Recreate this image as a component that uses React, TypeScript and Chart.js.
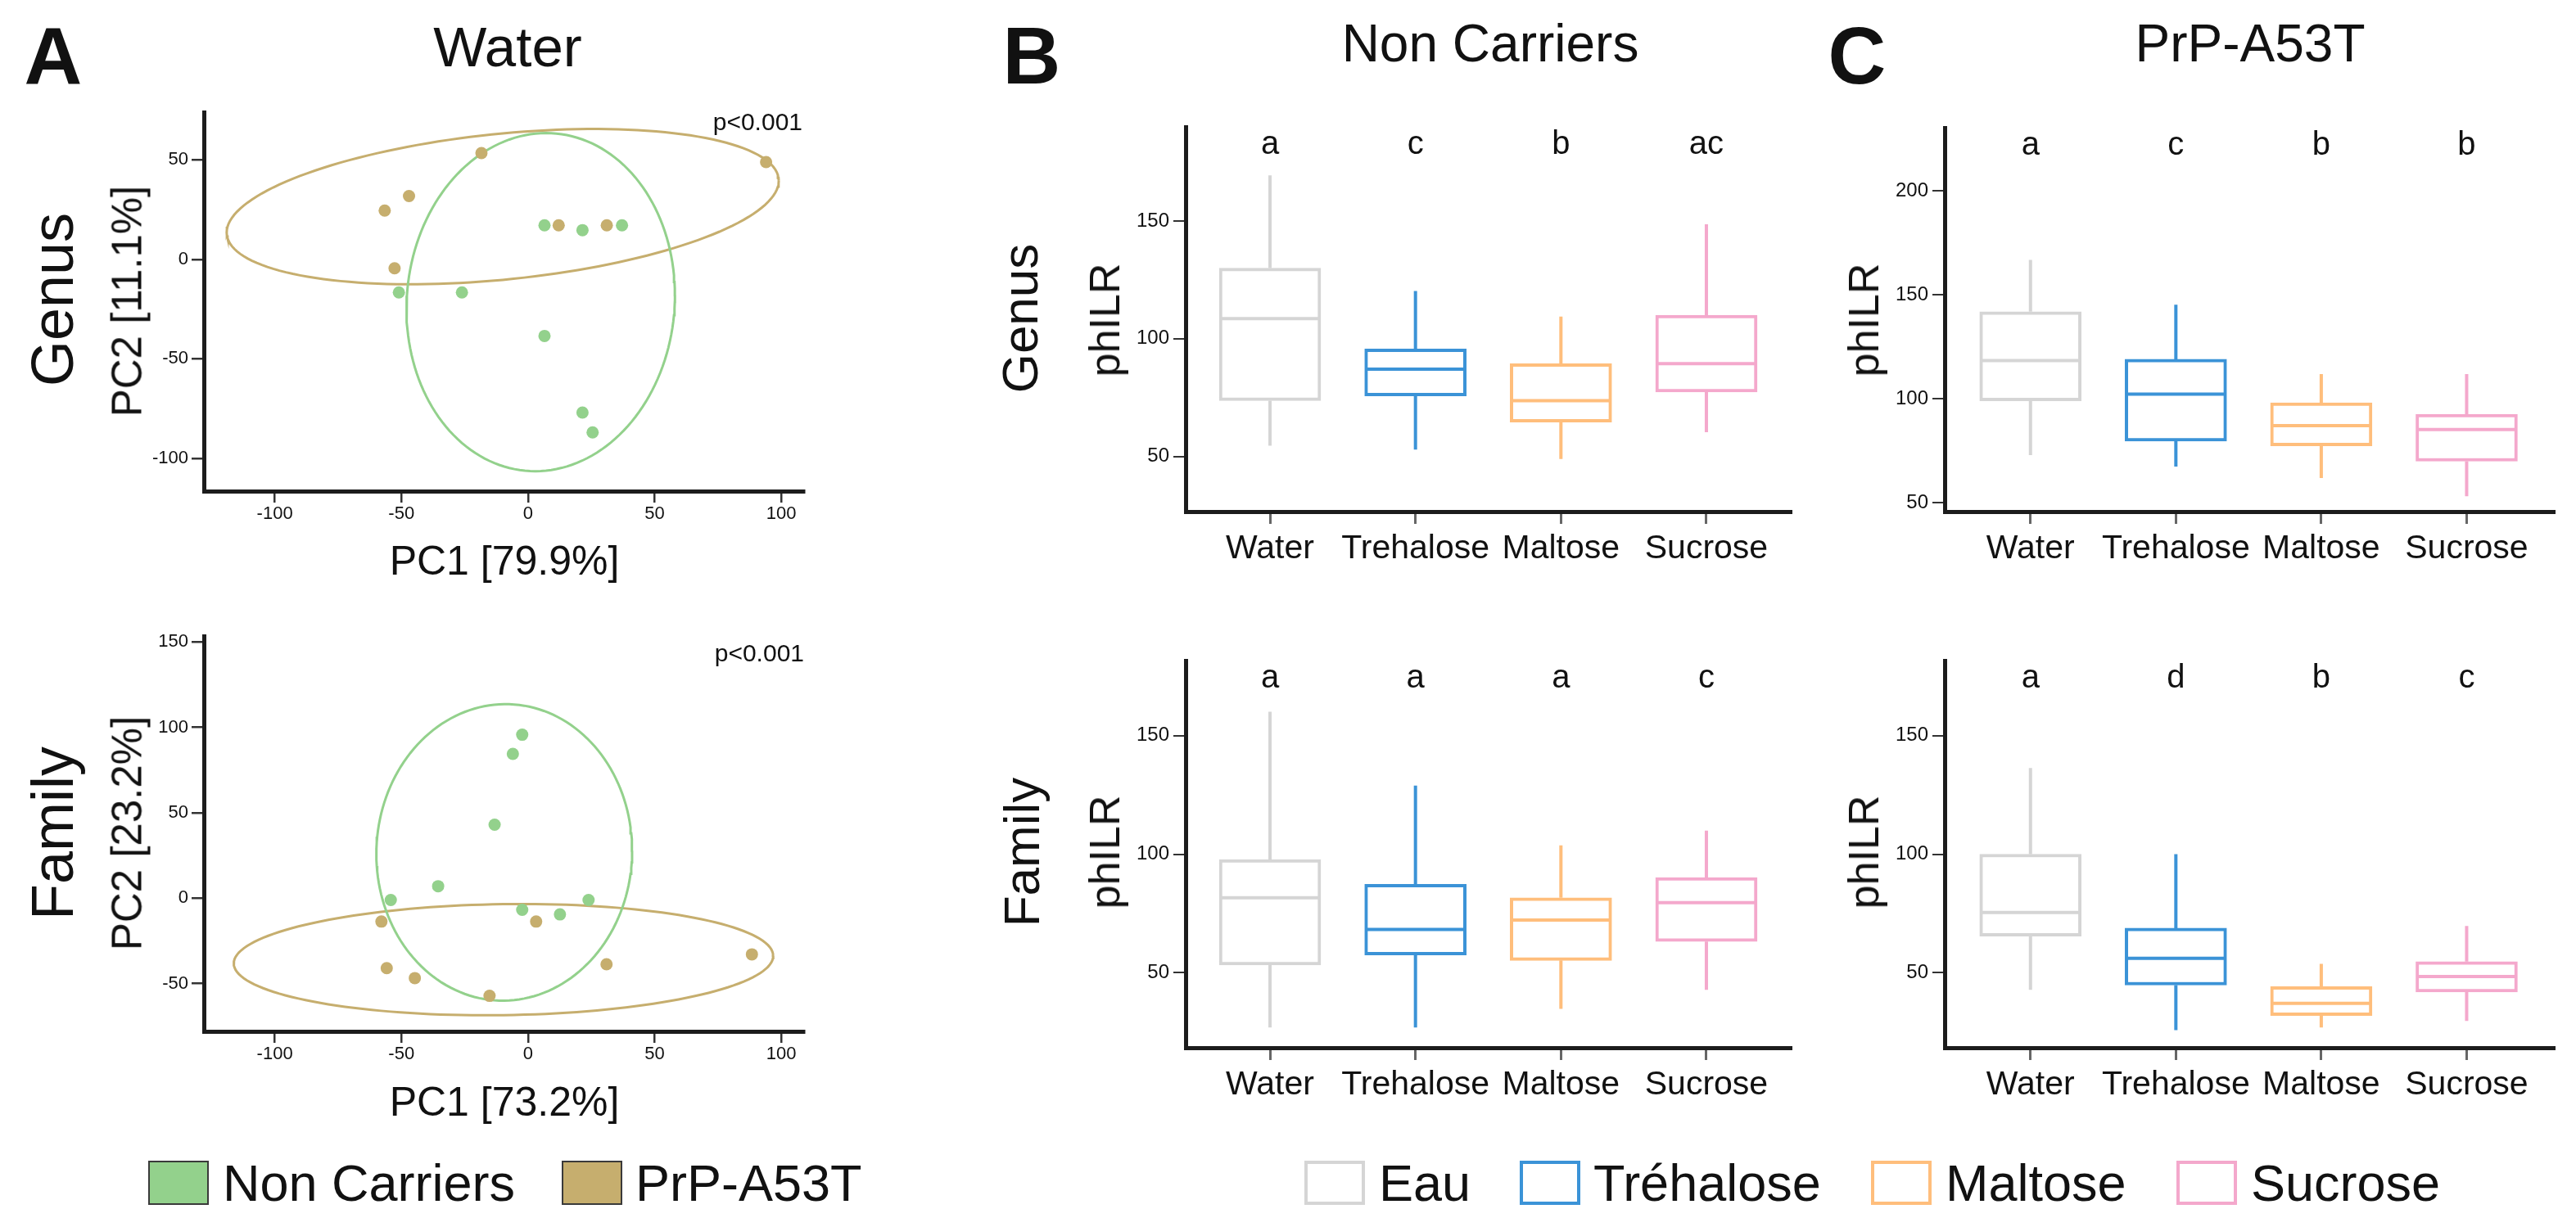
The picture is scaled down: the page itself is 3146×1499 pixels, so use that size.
import React, { useEffect, useRef } from "react";
import { Chart, registerables } from "chart.js";

Chart.register(...registerables);

const FONT = '"Liberation Sans", Arial, Helvetica, sans-serif';
Chart.defaults.font.family = FONT;

// ---------- Panel A : PCA ----------
const genusNonCarriersX = [6.5, 21.5, 37.1, -51, -26.1, 6.5, 21.5, 25.5];
const genusNonCarriersY = [17.1, 14.7, 17.1, -16.6, -16.6, -38.5, -77, -87];
const genusPrPX = [-18.4, 94, -47, -56.6, -52.7, 12.1, 31.1];
const genusPrPY = [53.4, 48.9, 31.8, 24.5, -4.5, 17.1, 17.1];
const familyNonCarriersX = [-2.3, -6, -13.2, -35.5, -54.2, -2.3, 12.6, 23.9];
const familyNonCarriersY = [95.7, 84.5, 43, 7, -1.1, -6.8, -9.5, -1.1];
const familyPrPX = [-57.9, 3.2, -55.8, -44.7, -15.2, 31, 88.4];
const familyPrPY = [-13.7, -13.7, -41, -46.8, -57.2, -38.7, -32.9];
// confidence ellipses: [centerX, centerY, Lxx, Lyx, Lyy] (Cholesky factor of scaled covariance)
const genusNonCarriersEllipse = [5, -21.5, 53, 3.5, 84.9];
const genusPrPEllipse = [-10, 26.5, 109, 13, 36.8];
const familyNonCarriersEllipse = [-9.4, 26.8, 50.5, 1, 86.8];
const familyPrPEllipse = [-9.7, -36, 106.5, 2.2, 32.5];
const pcaXTicks = [-100, -50, 0, 50, 100];
const genusPcaYTicks = [-100, -50, 0, 50];
const familyPcaYTicks = [-50, 0, 50, 100, 150];

// ---------- Panels B & C : phILR boxplots ----------
const categories = ["Water", "Trehalose", "Maltose", "Sucrose"];
// [min, q1, median, q3, max]
const nonCarriersGenus = [
  [54.6, 73.7, 108.6, 130, 169.4],
  [52.9, 75.7, 87.1, 95.7, 120.3],
  [48.9, 64.6, 73.7, 89.4, 109.4],
  [60.3, 77.4, 89.4, 110, 148.6],
];
const nonCarriersFamily = [
  [26.9, 53.3, 81.6, 97.7, 160],
  [26.9, 57.5, 68.3, 87.3, 128.9],
  [34.8, 55.2, 72.2, 81.6, 103.7],
  [42.8, 63.2, 79.6, 90.1, 109.9],
];
const prpGenus = [
  [72.9, 99, 118.4, 141.9, 166.8],
  [67.4, 79.7, 102.3, 119, 145.2],
  [61.9, 77.4, 87.1, 98.1, 111.9],
  [53.2, 70, 85.2, 92.6, 111.9],
];
const prpFamily = [
  [42.8, 65.4, 75.4, 100, 136.3],
  [25.8, 44.8, 56.1, 68.8, 100],
  [26.9, 32, 37.1, 44.2, 53.8],
  [29.7, 41.9, 48.4, 54.7, 69.7],
];
const nonCarriersGenusLetters = ["a", "c", "b", "ac"];
const nonCarriersFamilyLetters = ["a", "a", "a", "c"];
const prpGenusLetters = ["a", "c", "b", "b"];
const prpFamilyLetters = ["a", "d", "b", "c"];
const boxYTicks = [50, 100, 150];
const prpGenusYTicks = [50, 100, 150, 200];

const GREEN = "#93d18c";
const TAN = "#c6ae6e";
const BOX_COLORS = ["#d5d5d5", "#3b93d7", "#ffbe7c", "#f4a8cc"];
const AXIS = "#1c1c1c";

type Frame = { l: number; r: number; t: number; b: number; ml: number; mt: number; mr: number; mb: number };

function ellipsePoints(e: number[]) {
  const [cx, cy, a, b, c] = e;
  const pts: { x: number; y: number }[] = [];
  const n = 160;
  for (let k = 0; k <= n; k++) {
    const t = (2 * Math.PI * k) / n;
    pts.push({ x: cx + a * Math.cos(t), y: cy + b * Math.cos(t) + c * Math.sin(t) });
  }
  return pts;
}

function axis(opts: {
  min: number; max: number; ticks: number[]; isX: boolean; size: number; fontSize: number;
  tickLength: number; padding: number; tickColor: string; tickWidth: number; label?: (v: number) => string;
}) {
  return {
    type: "linear",
    min: opts.min,
    max: opts.max,
    offset: false,
    afterBuildTicks: (s: any) => {
      s.ticks = opts.ticks.map((v) => ({ value: v }));
    },
    afterFit: (s: any) => {
      if (opts.isX) s.height = opts.size;
      else s.width = opts.size;
      s.paddingLeft = 0;
      s.paddingRight = 0;
      s.paddingTop = 0;
      s.paddingBottom = 0;
    },
    grid: {
      display: true,
      offset: false,
      drawOnChartArea: false,
      drawTicks: true,
      tickLength: opts.tickLength,
      tickColor: opts.tickColor,
      tickWidth: opts.tickWidth,
      color: opts.tickColor,
      lineWidth: opts.tickWidth,
    },
    border: { display: true, color: AXIS, width: 5 },
    ticks: {
      autoSkip: false,
      maxRotation: 0,
      minRotation: 0,
      padding: opts.padding,
      color: "#111",
      font: { family: FONT, size: opts.fontSize },
      callback: (v: any) => (opts.label ? opts.label(Number(v)) : String(v)),
    },
  };
}

function baseOptions(f: Frame) {
  return {
    animation: false,
    responsive: false,
    maintainAspectRatio: false,
    devicePixelRatio: 1,
    events: [],
    layout: { padding: { left: 0, top: f.mt, right: f.mr, bottom: 0 } },
    plugins: { legend: { display: false }, tooltip: { enabled: false } },
  };
}

function pcaConfig(f: Frame, yMin: number, yMax: number, yTicks: number[], ncX: number[], ncY: number[], tgX: number[], tgY: number[], ncE: number[], tgE: number[]) {
  return {
    type: "scatter",
    data: {
      datasets: [
        { data: ncX.map((x, i) => ({ x, y: ncY[i] })), pointRadius: 7.5, backgroundColor: GREEN, borderWidth: 0, order: 1 },
        { data: tgX.map((x, i) => ({ x, y: tgY[i] })), pointRadius: 7.5, backgroundColor: TAN, borderWidth: 0, order: 2 },
        { data: ellipsePoints(ncE), showLine: true, borderColor: GREEN, borderWidth: 3, pointRadius: 0, fill: false, order: 3 },
        { data: ellipsePoints(tgE), showLine: true, borderColor: TAN, borderWidth: 3, pointRadius: 0, fill: false, order: 4 },
      ],
    },
    options: {
      ...baseOptions(f),
      scales: {
        x: axis({ min: -128, max: 109, ticks: pcaXTicks, isX: true, size: f.mb, fontSize: 22, tickLength: 14, padding: 1, tickColor: "#333", tickWidth: 2.5 }),
        y: axis({ min: yMin, max: yMax, ticks: yTicks, isX: false, size: f.ml, fontSize: 22, tickLength: 15, padding: 4, tickColor: "#333", tickWidth: 2.5 }),
      },
    },
  };
}

function boxPlugin(stats: number[][], letters: string[]) {
  return {
    id: "boxWhisker",
    beforeDatasetsDraw(chart: any) {
      const { ctx, scales } = chart;
      const x = scales.x;
      const y = scales.y;
      ctx.save();
      ctx.lineWidth = 4;
      ctx.lineCap = "butt";
      stats.forEach((s, i) => {
        const px = x.getPixelForValue(i);
        ctx.strokeStyle = BOX_COLORS[i];
        ctx.beginPath();
        ctx.moveTo(px, y.getPixelForValue(s[0]));
        ctx.lineTo(px, y.getPixelForValue(s[1]));
        ctx.moveTo(px, y.getPixelForValue(s[3]));
        ctx.lineTo(px, y.getPixelForValue(s[4]));
        ctx.stroke();
      });
      ctx.restore();
    },
    afterDatasetsDraw(chart: any) {
      const { ctx, scales, chartArea } = chart;
      const x = scales.x;
      const y = scales.y;
      const meta = chart.getDatasetMeta(0);
      ctx.save();
      ctx.lineWidth = 4;
      meta.data.forEach((bar: any, i: number) => {
        const p = bar.getProps(["x", "width"], true);
        const py = y.getPixelForValue(stats[i][2]);
        ctx.strokeStyle = BOX_COLORS[i];
        ctx.beginPath();
        ctx.moveTo(p.x - p.width / 2 + 2, py);
        ctx.lineTo(p.x + p.width / 2 - 2, py);
        ctx.stroke();
      });
      ctx.fillStyle = "#111";
      ctx.font = `40px ${FONT}`;
      ctx.textAlign = "center";
      ctx.textBaseline = "middle";
      letters.forEach((l, i) => {
        ctx.fillText(l, x.getPixelForValue(i), chartArea.top + 22);
      });
      ctx.restore();
    },
  };
}

function boxConfig(f: Frame, yMin: number, yMax: number, yTicks: number[], stats: number[][], letters: string[], xMin: number, xMax: number) {
  return {
    type: "bar",
    data: {
      datasets: [
        {
          data: stats.map((s, i) => ({ x: i, y: [s[1], s[3]] })),
          backgroundColor: "#ffffff",
          borderColor: BOX_COLORS,
          borderWidth: 4,
          borderSkipped: false,
          barThickness: 124,
        },
      ],
    },
    options: {
      ...baseOptions(f),
      scales: {
        x: axis({ min: xMin, max: xMax, ticks: [0, 1, 2, 3], isX: true, size: f.mb, fontSize: 41, tickLength: 15, padding: 6, tickColor: "#666", tickWidth: 3, label: (v) => categories[v] }),
        y: axis({ min: yMin, max: yMax, ticks: yTicks, isX: false, size: f.ml, fontSize: 24, tickLength: 15, padding: 5, tickColor: "#333", tickWidth: 2 }),
      },
    },
    plugins: [boxPlugin(stats, letters)],
  };
}

function ChartBox({ f, make }: { f: Frame; make: () => any }) {
  const ref = useRef<HTMLCanvasElement | null>(null);
  useEffect(() => {
    if (!ref.current) return;
    const chart = new Chart(ref.current, make());
    return () => chart.destroy();
  }, []);
  const w = f.ml + (f.r - f.l) + f.mr;
  const h = f.mt + (f.b - f.t) + f.mb;
  return (
    <canvas
      ref={ref}
      width={w}
      height={h}
      style={{ position: "absolute", left: f.l - f.ml, top: f.t - f.mt, width: w, height: h }}
    />
  );
}

function T({ x, y, size, text, bold, rotate, align = "center" }: { x: number; y: number; size: number; text: string; bold?: boolean; rotate?: boolean; align?: string }) {
  const tx = align === "center" ? "-50%" : align === "right" ? "-100%" : "0";
  return (
    <div
      style={{
        position: "absolute",
        left: x,
        top: y,
        fontSize: size,
        fontFamily: FONT,
        fontWeight: bold ? 700 : 400,
        lineHeight: 1,
        whiteSpace: "nowrap",
        color: "#111",
        transform: `translate(${tx}, -50%)${rotate ? " rotate(-90deg)" : ""}`,
      }}
    >
      {text}
    </div>
  );
}

function LegendBox({ x, fill, border, bw }: { x: number; fill: string; border: string; bw: number }) {
  return (
    <div
      style={{
        position: "absolute",
        left: x,
        top: 1418,
        width: 74,
        height: 54,
        boxSizing: "border-box",
        background: fill,
        border: `${bw}px solid ${border}`,
      }}
    />
  );
}

const fA1: Frame = { l: 249, r: 982, t: 137, b: 600, ml: 125, mt: 15, mr: 40, mb: 60 };
const fA2: Frame = { l: 249, r: 982, t: 777, b: 1260, ml: 125, mt: 15, mr: 40, mb: 60 };
const fB1: Frame = { l: 1448, r: 2187, t: 155, b: 625, ml: 110, mt: 15, mr: 25, mb: 75 };
const fB2: Frame = { l: 1448, r: 2187, t: 807, b: 1280, ml: 110, mt: 15, mr: 25, mb: 75 };
const fC1: Frame = { l: 2375, r: 3119, t: 156, b: 625, ml: 110, mt: 15, mr: 25, mb: 75 };
const fC2: Frame = { l: 2375, r: 3119, t: 807, b: 1280, ml: 110, mt: 15, mr: 25, mb: 75 };

export default function App() {
  return (
    <div style={{ position: "relative", width: 3146, height: 1499, background: "#fff", overflow: "hidden" }}>
      <style>{`body{margin:0;background:#fff}`}</style>

      <ChartBox f={fA1} make={() => pcaConfig(fA1, -116.5, 74, genusPcaYTicks, genusNonCarriersX, genusNonCarriersY, genusPrPX, genusPrPY, genusNonCarriersEllipse, genusPrPEllipse)} />
      <ChartBox f={fA2} make={() => pcaConfig(fA2, -78, 153.5, familyPcaYTicks, familyNonCarriersX, familyNonCarriersY, familyPrPX, familyPrPY, familyNonCarriersEllipse, familyPrPEllipse)} />
      <ChartBox f={fB1} make={() => boxConfig(fB1, 26.6, 190, boxYTicks, nonCarriersGenus, nonCarriersGenusLetters, -0.58, 3.58)} />
      <ChartBox f={fB2} make={() => boxConfig(fB2, 18.4, 181.6, boxYTicks, nonCarriersFamily, nonCarriersFamilyLetters, -0.58, 3.58)} />
      <ChartBox f={fC1} make={() => boxConfig(fC1, 45.8, 230.3, prpGenusYTicks, prpGenus, prpGenusLetters, -0.59, 3.6)} />
      <ChartBox f={fC2} make={() => boxConfig(fC2, 18.4, 181.6, boxYTicks, prpFamily, prpFamilyLetters, -0.59, 3.6)} />

      {/* panel letters and titles */}
      <T x={65} y={68} size={98} text="A" bold />
      <T x={1260} y={68} size={98} text="B" bold />
      <T x={2268} y={68} size={98} text="C" bold />
      <T x={620} y={57} size={69} text="Water" />
      <T x={1820} y={53} size={64} text="Non Carriers" />
      <T x={2748} y={53} size={64} text="PrP-A53T" />

      {/* panel A labels */}
      <T x={64} y={366} size={72} text="Genus" rotate />
      <T x={64} y={1018} size={72} text="Family" rotate />
      <T x={155} y={368} size={51} text="PC2 [11.1%]" rotate />
      <T x={155} y={1018} size={51} text="PC2 [23.2%]" rotate />
      <T x={616} y={685} size={50} text="PC1 [79.9%]" />
      <T x={616} y={1346} size={50} text="PC1 [73.2%]" />
      <T x={980} y={149} size={30} text="p<0.001" align="right" />
      <T x={982} y={798} size={30} text="p<0.001" align="right" />

      {/* panel B/C labels */}
      <T x={1246} y={389} size={62} text="Genus" rotate />
      <T x={1248} y={1041} size={62} text="Family" rotate />
      <T x={1349} y={391} size={52} text="phILR" rotate />
      <T x={1349} y={1041} size={52} text="phILR" rotate />
      <T x={2276} y={391} size={52} text="phILR" rotate />
      <T x={2276} y={1041} size={52} text="phILR" rotate />

      {/* legends */}
      <LegendBox x={181} fill={GREEN} border="#3a3a3a" bw={2} />
      <T x={272} y={1445} size={63} text="Non Carriers" align="left" />
      <LegendBox x={686} fill={TAN} border="#3a3a3a" bw={2} />
      <T x={776} y={1445} size={63} text="PrP-A53T" align="left" />

      <LegendBox x={1593} fill="#fff" border={BOX_COLORS[0]} bw={4} />
      <T x={1684} y={1445} size={63} text="Eau" align="left" />
      <LegendBox x={1856} fill="#fff" border={BOX_COLORS[1]} bw={4} />
      <T x={1946} y={1445} size={63} text="Tréhalose" align="left" />
      <LegendBox x={2285} fill="#fff" border={BOX_COLORS[2]} bw={4} />
      <T x={2376} y={1445} size={63} text="Maltose" align="left" />
      <LegendBox x={2658} fill="#fff" border={BOX_COLORS[3]} bw={4} />
      <T x={2749} y={1445} size={63} text="Sucrose" align="left" />
    </div>
  );
}
